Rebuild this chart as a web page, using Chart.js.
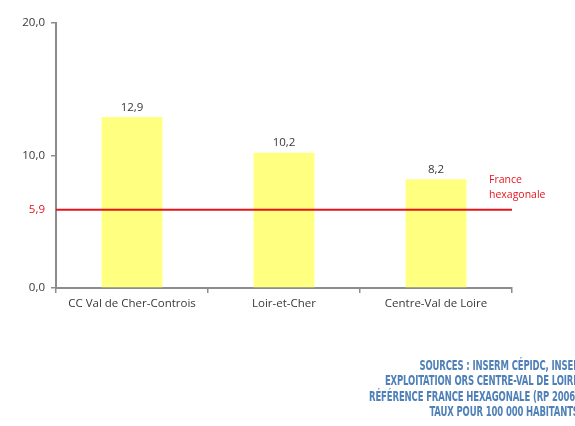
<!DOCTYPE html>
<html><head><meta charset="utf-8">
<script src="https://cdn.jsdelivr.net/npm/chart.js@4/dist/chart.umd.min.js"></script>
<style>
html,body{margin:0;padding:0;background:#fff;}
#wrap{position:relative;width:575px;height:426px;overflow:hidden;}
#src{position:absolute;right:-4px;top:358px;text-align:right;font-family:'Liberation Sans Narrow','DejaVu Sans Condensed',sans-serif;font-weight:bold;font-size:14px;line-height:15.3px;color:#4f80b8;transform:scaleX(0.675);transform-origin:right top;white-space:nowrap;letter-spacing:-0.2px;}
</style></head><body>
<div id="wrap">
<canvas id="c" width="575" height="426"></canvas>
<div id="src">SOURCES : INSERM CÉPIDC, INSEE<br>EXPLOITATION ORS CENTRE-VAL DE LOIRE<br>RÉFÉRENCE FRANCE HEXAGONALE (RP 2006)<br>TAUX POUR 100 000 HABITANTS</div>
</div>
<script>
const categories = ['CC Val de Cher-Controis', 'Loir-et-Cher', 'Centre-Val de Loire'];
const values = [12.9, 10.2, 8.2];
const franceValue = 5.9;
const franceLabel = ['France', 'hexagonale'];
const yTicks = [0, 10, 20];

const fmt = v => v.toFixed(1).replace('.', ',');
const RED = '#e8141c';
const AXIS = '#8c8c8c';
const TXT = '#383838';
const FONT = "'Open Sans', sans-serif";

const refPlugin = {
  id: 'ref',
  afterDatasetsDraw(chart) {
    const {ctx, chartArea, scales} = chart;
    const y = scales.y.getPixelForValue(franceValue);
    ctx.save();
    ctx.strokeStyle = RED;
    ctx.lineWidth = 2;
    ctx.beginPath();
    ctx.moveTo(chartArea.left, y);
    ctx.lineTo(chartArea.right, y);
    ctx.stroke();
    ctx.fillStyle = RED;
    ctx.font = "10.5px " + FONT;
    ctx.textAlign = 'left';
    ctx.textBaseline = 'middle';
    ctx.fillText(franceLabel[0], chartArea.right - 23, y - 30);
    ctx.fillText(franceLabel[1], chartArea.right - 23, y - 15);
    // data labels
    ctx.fillStyle = TXT;
    ctx.font = "11.5px " + FONT;
    ctx.textAlign = 'center';
    ctx.textBaseline = 'bottom';
    const meta = chart.getDatasetMeta(0);
    meta.data.forEach((bar, i) => {
      ctx.fillText(fmt(values[i]), bar.x, bar.y - 4);
    });
    ctx.restore();
  }
};

new Chart(document.getElementById('c'), {
  type: 'bar',
  data: {
    labels: categories,
    datasets: [{
      data: values,
      backgroundColor: '#ffff80',
      borderWidth: 0,
      barPercentage: 0.4,
      categoryPercentage: 1.0
    }]
  },
  options: {
    responsive: false,
    animation: false,
    layout: {padding: {left: 0, top: 23, right: 63, bottom: 0}},
    plugins: {legend: {display: false}, tooltip: {enabled: false}},
    scales: {
      x: {
        grid: {offset: true, drawOnChartArea: false, drawTicks: true, tickLength: 5, color: AXIS, lineWidth: 1.5},
        border: {display: true, color: AXIS, width: 2},
        ticks: {color: TXT, font: {family: FONT, size: 11.5}, padding: 4, maxRotation: 0},
        afterFit(s) { s.height = 138; }
      },
      y: {
        min: 0, max: 20,
        afterBuildTicks(s) {
          s.ticks = yTicks.concat([franceValue]).sort((a,b)=>a-b).map(v => ({value: v}));
        },
        grid: {
          drawOnChartArea: false, drawTicks: true, tickLength: 5, lineWidth: 1.5,
          color: c => (c.tick && c.tick.value === franceValue) ? 'rgba(0,0,0,0)' : AXIS
        },
        border: {display: true, color: AXIS, width: 2},
        ticks: {
          color: c => (c.tick && c.tick.value === franceValue) ? RED : TXT,
          font: {family: FONT, size: 11.5},
          padding: 6,
          callback: v => fmt(v)
        },
        afterFit(s) { s.width = 56; }
      }
    }
  },
  plugins: [refPlugin]
});
</script>
</body></html>
